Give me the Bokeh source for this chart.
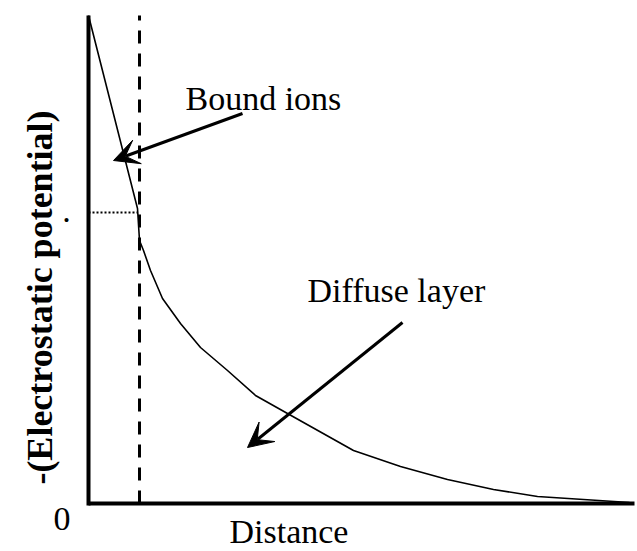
import math
from bokeh.plotting import figure
from bokeh.models import Range1d, Arrow, VeeHead
from bokeh.core.properties import value
from bokeh.embed import file_html
from bokeh.resources import INLINE

# Data (arbitrary units; origin at the axes corner)
distance = [0, 49, 51, 55, 62, 74, 92, 112, 139, 167, 199, 265, 312, 359, 405, 449, 495, 541]
potential = [488, 295, 263, 253, 233, 205, 180, 156, 133, 108, 90, 53, 37, 24, 14, 7, 4, 1]
stern_plane_x = 51
stern_potential = 291
x_axis_extent = [0, 546]
y_axis_extent = [-2, 488]

# annotation texts and anchors
note_text = ["Bound ions", "Diffuse layer", "Distance", "0"]
note_x = [97, 219, 141, -35]
note_y = [405, 213, -28, -15]
bound_arrow = {"x0": 154, "y0": 390, "x1": 25, "y1": 343}
diffuse_arrow = {"x0": 314, "y0": 181, "x1": 159, "y1": 56}
y_label = "-(Electrostatic potential)"

FONT = value("Liberation Serif")

p = figure(width=637, height=551, x_range=Range1d(-88, 549), y_range=Range1d(-48, 503),
           output_backend="svg", toolbar_location=None,
           x_axis_type=None, y_axis_type=None,
           min_border_left=0, min_border_right=0, min_border_top=0, min_border_bottom=0)
p.outline_line_color = None
p.grid.visible = False
p.background_fill_color = "white"

# axis lines
p.line(x_axis_extent, [0, 0], line_width=4, line_color="black")
p.line([0, 0], y_axis_extent, line_width=4, line_color="black")

# curve
p.line(distance, potential, line_width=1.6, line_color="black")

# Stern plane (dashed) and its potential (dotted)
p.line([stern_plane_x, stern_plane_x], [0, y_axis_extent[1]], line_color="black",
       line_width=3, line_dash="13 10")
p.line([0, distance[1]], [stern_potential, stern_potential], line_color="black",
       line_width=2, line_dash="2 2")

# arrows
for a in (bound_arrow, diffuse_arrow):
    p.add_layout(Arrow(end=VeeHead(size=25, fill_color="black", line_color="black", line_width=1),
                       x_start=a["x0"], y_start=a["y0"], x_end=a["x1"], y_end=a["y1"],
                       line_width=3, line_color="black"))

# texts
p.text(x=note_x, y=note_y, text=note_text, text_font=FONT, text_font_size="34px",
       text_color="black", text_align="left", text_baseline="alphabetic")
p.text(x=[-22], y=[293], text=["."], text_font=FONT, text_font_size="34px",
       text_color="black", text_align="center", text_baseline="alphabetic")
p.text(x=[-49], y=[206], text=[y_label], text_font=FONT, text_font_size="36px",
       text_font_style="bold", angle=math.pi / 2,
       text_color="black", text_align="center", text_baseline="middle")

open("out.html", "w").write(file_html(p, INLINE))
